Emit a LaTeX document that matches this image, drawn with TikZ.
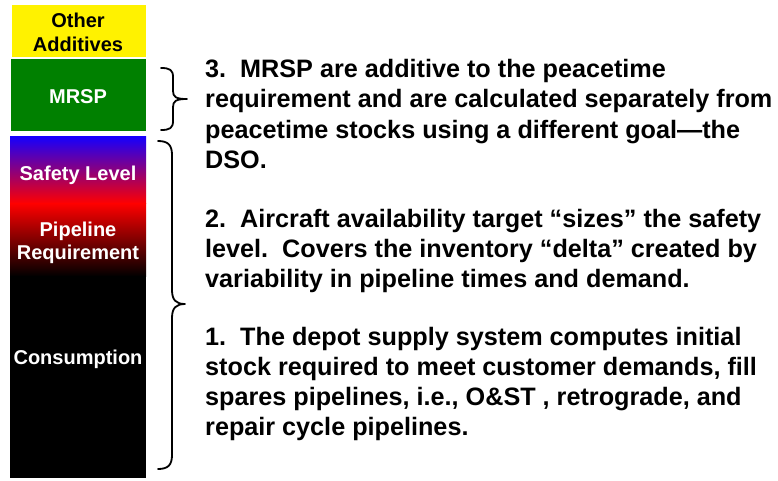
\documentclass[tikz,border=0pt]{standalone}
\usepackage{fontspec}
\setmainfont{Liberation Sans}
\frenchspacing
\begin{document}
\begin{tikzpicture}[x=1pt,y=-1pt,
  txt/.style={anchor=base west, inner sep=0pt, font=\bfseries\fontsize{25.2}{30}\selectfont},
  lbl/.style={anchor=base, inner sep=0pt, font=\bfseries\fontsize{20}{24}\selectfont},
  brace/.style={line width=1.8pt, line cap=round, line join=round}]
\definecolor{barblue}{RGB}{20,0,255}
\definecolor{barpurple}{RGB}{175,0,200}
\definecolor{bargreen}{RGB}{0,128,0}
\useasboundingbox (0,0) rectangle (778,480);

% stacked inventory bar
\fill[yellow] (12,5) rectangle (146,57);
\fill[bargreen] (11,59) rectangle (146,131);
\shade[top color=barblue, middle color=barpurple, bottom color=red] (10,136) rectangle (146,203.5);
\shade[top color=red, bottom color=black] (10,203) rectangle (146,276.5);
\fill[black] (10,276) rectangle (146,478);

% bar labels
\node[lbl] (oa1) at (78,27) {Other};
\node[lbl] (oa2) at (78,51) {Additives};
\node[lbl, text=white] (mrsp) at (78,103) {MRSP};
\node[lbl, text=white] (safe) at (78,180) {Safety Level};
\node[lbl, text=white] (pipe1) at (78,236) {Pipeline};
\node[lbl, text=white] (pipe2) at (78,259) {Requirement};
\node[lbl, text=white] (cons) at (78,364) {Consumption};

% braces
\draw[brace] (161,68) .. controls (170,68) and (173,70) .. (173,77) -- (173,91)
  .. controls (173,97) and (176,99) .. (187,99)
  .. controls (176,99) and (173,101) .. (173,107) -- (173,121)
  .. controls (173,128) and (170,130) .. (161,130);
\draw[brace] (158,141) .. controls (168,141) and (172,145) .. (172,155) -- (172,290)
  .. controls (172,300) and (176,304) .. (185,304)
  .. controls (176,304) and (172,308) .. (172,318) -- (172,455)
  .. controls (172,465) and (168,469) .. (158,469);

% explanatory text
\node[txt] (t3a) at (205,77) {3.\ \ MRSP are additive to the peacetime};
\node[txt] (t3b) at (205,107.5) {requirement and are calculated separately from};
\node[txt] (t3c) at (205,138) {peacetime stocks using a different goal—the};
\node[txt] (t3d) at (205,168) {DSO.};

\node[txt] (t2a) at (205,227) {2.\ \ Aircraft availability target “sizes” the safety};
\node[txt] (t2b) at (205,257) {level.\ \ Covers the inventory “delta” created by};
\node[txt] (t2c) at (205,287) {variability in pipeline times and demand.};

\node[txt] (t1a) at (205,345) {1.\ \ The depot supply system computes initial};
\node[txt] (t1b) at (205,375) {stock required to meet customer demands, fill};
\node[txt] (t1c) at (205,405) {spares pipelines, i.e., O\&ST , retrograde, and};
\node[txt] (t1d) at (205,435) {repair cycle pipelines.};
\end{tikzpicture}
\end{document}
